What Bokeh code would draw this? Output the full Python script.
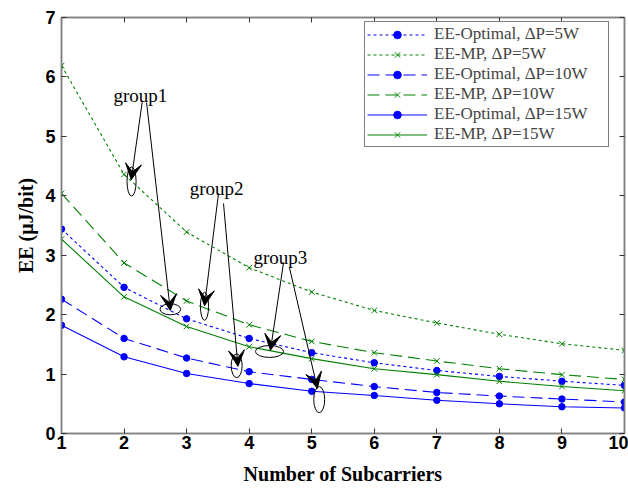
from bokeh.plotting import figure
from bokeh.models import Range1d, LinearAxis, Arrow, VeeHead, Label, Legend
from bokeh.embed import file_html
from bokeh.resources import INLINE

# ---- data ----
subcarriers = [1, 2, 3, 4, 5, 6, 7, 8, 9, 10]
opt_5w  = [3.44, 2.46, 1.93, 1.60, 1.36, 1.19, 1.06, 0.96, 0.88, 0.81]
mp_5w   = [6.19, 4.36, 3.39, 2.79, 2.38, 2.07, 1.86, 1.67, 1.51, 1.40]
opt_10w = [2.26, 1.60, 1.27, 1.04, 0.91, 0.79, 0.69, 0.63, 0.58, 0.53]
mp_10w  = [4.04, 2.87, 2.23, 1.83, 1.55, 1.36, 1.22, 1.09, 0.99, 0.91]
opt_15w = [1.82, 1.29, 1.01, 0.84, 0.71, 0.64, 0.56, 0.50, 0.45, 0.43]
mp_15w  = [3.27, 2.30, 1.80, 1.46, 1.26, 1.09, 0.99, 0.88, 0.79, 0.72]

x_ticks = [1, 2, 3, 4, 5, 6, 7, 8, 9, 10]
y_ticks = [0, 1, 2, 3, 4, 5, 6, 7]

# annotation groups (data coordinates)
group_names = ["group1", "group2", "group3"]
group_text_x = [1.83, 3.05, 4.07]
group_text_y = [5.69, 4.12, 2.96]
# arrows: start -> tip
arrow_x0 = [2.29, 2.36, 3.51, 3.59, 4.55, 4.645]
arrow_y0 = [5.575, 5.57, 4.04, 3.87, 2.88, 2.79]
arrow_x1 = [2.115, 2.74, 3.286, 3.82, 4.34, 5.09]
arrow_y1 = [4.27, 2.07, 2.15, 1.13, 1.40, 0.76]
# ellipses
ell_x = [2.12, 2.74, 3.286, 3.80, 4.325, 5.12]
ell_y = [4.24, 2.09, 2.14, 1.14, 1.38, 0.57]
ell_w = [0.145, 0.33, 0.13, 0.175, 0.45, 0.175]
ell_h = [0.49, 0.185, 0.47, 0.40, 0.20, 0.44]

BLUE = "#0000ff"
GREEN = "#008000"
DOT = "3 3"
DASH = "12 6"

p = figure(width=628, height=490, x_range=Range1d(1, 10), y_range=Range1d(0, 7),
           output_backend="svg", toolbar_location=None,
           min_border_left=61, min_border_right=4, min_border_top=17, min_border_bottom=57)
p.grid.visible = False
p.outline_line_color = "#808080"
p.outline_line_width = 1.5
p.background_fill_color = "white"
p.border_fill_color = "white"

series = [
    ("EE-Optimal, \u0394P=5W", opt_5w, BLUE, DOT, "circle"),
    ("EE-MP, \u0394P=5W", mp_5w, GREEN, DOT, "x"),
    ("EE-Optimal, \u0394P=10W", opt_10w, BLUE, DASH, "circle"),
    ("EE-MP, \u0394P=10W", mp_10w, GREEN, DASH, "x"),
    ("EE-Optimal, \u0394P=15W", opt_15w, BLUE, "solid", "circle"),
    ("EE-MP, \u0394P=15W", mp_15w, GREEN, "solid", "x"),
]
items = []
for label, ys, color, dash, marker in series:
    r1 = p.line(subcarriers, ys, line_color=color, line_width=1.1, line_dash=dash)
    if marker == "circle":
        r2 = p.scatter(subcarriers, ys, marker="circle", size=6.5, fill_color=color, line_color=color)
    else:
        r2 = p.scatter(subcarriers, ys, marker="x", size=8, line_color=color, line_width=1)
    items.append((label, [r1, r2]))

legend = Legend(items=items, location=(303, 286))
legend.label_text_font = "Liberation Serif"
legend.label_text_font_size = "17px"
legend.label_text_line_height = 1.0
legend.glyph_width = 60
legend.glyph_height = 19
legend.label_height = 19
legend.label_width = 172
legend.label_standoff = 7
legend.spacing = 0
legend.padding = 2
legend.margin = 0
legend.border_line_color = "black"
legend.border_line_width = 1
legend.background_fill_color = "white"
legend.background_fill_alpha = 1
p.add_layout(legend, "center")

# ellipses and arrows
p.ellipse(x=ell_x, y=ell_y, width=ell_w, height=ell_h, fill_color=None, line_color="black", line_width=1)
for x0, y0, x1, y1 in zip(arrow_x0, arrow_y0, arrow_x1, arrow_y1):
    p.add_layout(Arrow(end=VeeHead(size=16, fill_color="black", line_color="black"),
                       x_start=x0, y_start=y0, x_end=x1, y_end=y1,
                       line_color="black", line_width=1))
for name, tx, ty in zip(group_names, group_text_x, group_text_y):
    p.add_layout(Label(x=tx, y=ty, text=name, text_font="Liberation Serif",
                       text_font_size="19px", text_color="black", text_baseline="alphabetic"))

xa = p.xaxis[0]
xa.ticker = x_ticks
ya = p.yaxis[0]
ya.ticker = y_ticks
for ax in (xa, ya):
    ax.axis_line_color = "#808080"
    ax.axis_line_width = 1.5
    ax.major_tick_in = 5
    ax.major_tick_out = 0
    ax.minor_tick_line_color = None
    ax.major_tick_line_color = "#333333"
    ax.major_label_text_font = "Liberation Sans"
    ax.major_label_text_font_style = "bold"
    ax.major_label_text_font_size = "18px"
    ax.major_label_text_color = "black"
    ax.axis_label_text_font = "Liberation Serif"
    ax.axis_label_text_font_style = "bold"
    ax.axis_label_text_font_size = "20px"
    ax.axis_label_text_color = "black"
xa.axis_label = "Number of Subcarriers"
xa.major_label_standoff = 2
xa.axis_label_standoff = 11
ya.axis_label = "EE (\u03bcJ/bit)"
ya.major_label_standoff = 6
ya.axis_label_standoff = 5

top = LinearAxis(ticker=x_ticks)
right = LinearAxis(ticker=y_ticks)
for ax in (top, right):
    ax.axis_line_color = "#808080"
    ax.axis_line_width = 1.5
    ax.major_tick_in = 5
    ax.major_tick_out = 0
    ax.minor_tick_line_color = None
    ax.major_tick_line_color = "#333333"
    ax.major_label_text_font_size = "1px"
    ax.major_label_text_alpha = 0
    ax.major_label_standoff = 0
p.add_layout(top, "above")
p.add_layout(right, "right")

open("out.html", "w").write(file_html(p, INLINE))
